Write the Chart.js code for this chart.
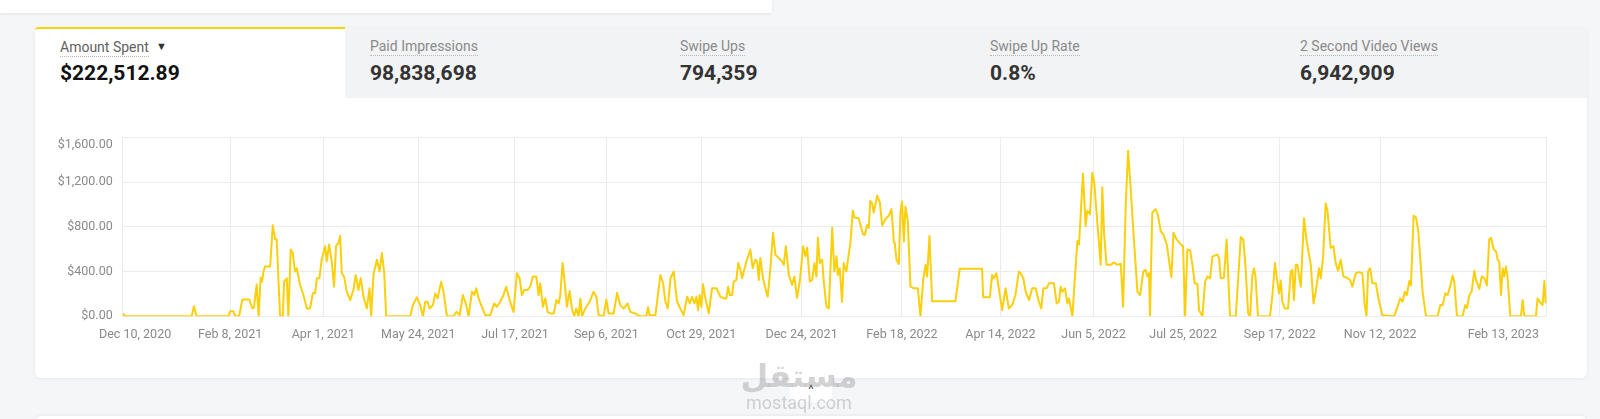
<!DOCTYPE html>
<html>
<head>
<meta charset="utf-8" />
<title>Amount Spent</title>
<style>
  body { margin: 0; width: 1600px; height: 419px; overflow: hidden; position: relative;
         background: #f5f6f8; font-family: Roboto, "Liberation Sans", sans-serif; }
  .topbar { position: absolute; left: 0; top: 0; width: 772px; height: 13px; background: #fff;
            box-shadow: 0 1px 3px rgba(0,0,0,0.08); }
  .card { position: absolute; left: 35px; top: 27px; width: 1552px; height: 351px; background: #fff;
          border-radius: 6px; box-shadow: 0 1px 4px rgba(0,0,0,0.06); }
  .tabs { position: absolute; left: 0; top: 0; width: 1552px; height: 71px; background: #f2f3f5;
          border-top-right-radius: 6px; }
  .tab { position: absolute; top: 0; width: 310px; height: 71px; }
  .tab.active { background: #fff; border-top: 2px solid #f7d30c; height: 69px; border-top-left-radius: 4px; }
  .lbl { position: absolute; left: 25px; top: 11px; font-size: 14px; color: #8a8a8a;
         border-bottom: 1px dotted #b8b8b8; padding-bottom: 1px; line-height: 16px; }
  .active .lbl { color: #5f5f5f; top: 10px; }
  .caret { position: absolute; left: 121px; top: 11px; font-size: 11px; color: #333; }
  .val { position: absolute; left: 25px; top: 34px; font-size: 21px; font-weight: 700; color: #333;
         line-height: 24px; }
  .active .val { color: #111; top: 32px; }
  canvas { position: absolute; left: 35px; top: 121px; }
  .up { position: absolute; left: 790px; top: 378px; width: 42px; height: 24px; background: #fff;
        border-radius: 0 0 4px 4px; text-align: center; font-size: 13px; color: #444; line-height: 24px; }
  .wm { position: absolute; left: 740px; top: 358px; width: 118px; text-align: center;
        color: rgba(150,150,150,0.42); pointer-events: none; }
  .wm .ar { font-family: "DejaVu Sans", sans-serif; font-weight: 700; font-size: 32px; line-height: 36px; }
  .wm .en { font-family: Roboto, sans-serif; font-size: 18px; line-height: 18px; }
  .next { position: absolute; left: 35px; top: 416px; width: 1552px; height: 20px; background: #fff;
          border-radius: 6px; box-shadow: 0 -1px 3px rgba(0,0,0,0.06); }
</style>
</head>
<body>
<div class="topbar"></div>
<div class="card">
  <div class="tabs"></div>
  <div class="tab active" style="left:0"><span class="lbl">Amount Spent</span><span class="caret">&#9660;</span><span class="val">$222,512.89</span></div>
  <div class="tab" style="left:310px"><span class="lbl">Paid Impressions</span><span class="val">98,838,698</span></div>
  <div class="tab" style="left:620px"><span class="lbl">Swipe Ups</span><span class="val">794,359</span></div>
  <div class="tab" style="left:930px"><span class="lbl">Swipe Up Rate</span><span class="val">0.8%</span></div>
  <div class="tab" style="left:1240px"><span class="lbl">2 Second Video Views</span><span class="val">6,942,909</span></div>
</div>
<canvas id="myChart" width="1552" height="240"></canvas>
<div class="up">^</div>
<div class="wm"><div class="ar">مستقل</div><div class="en">mostaql.com</div></div>
<div class="next"></div>

<script src="https://cdn.jsdelivr.net/npm/chart.js@4.4.1/dist/chart.umd.min.js"></script>
<script>
// days counted from Dec 10, 2020
var xTickDays = [0, 60, 112, 165, 219, 270, 323, 379, 435, 490, 542, 592, 646, 702, 795];
var xTickLabels = ['Dec 10, 2020', 'Feb 8, 2021', 'Apr 1, 2021', 'May 24, 2021', 'Jul 17, 2021',
    'Sep 6, 2021', 'Oct 29, 2021', 'Dec 24, 2021', 'Feb 18, 2022', 'Apr 14, 2022', 'Jun 5, 2022',
    'Jul 25, 2022', 'Sep 17, 2022', 'Nov 12, 2022', 'Feb 13, 2023'];
var yTicks = [0, 400, 800, 1200, 1600];

// amount spent (day, $)
var days = [
    0, 1.5, 38.5, 39.8, 41.3, 59, 59.9, 61.8, 62.9, 65, 66.8, 70.7, 72.4, 73.3, 74.8, 75.9, 77, 77.8, 78.6, 79.5,
    82.3, 83.8, 85.1, 86, 86.9, 87.9, 89.4, 90.1, 91.6, 92.5, 93.8, 94.9, 96.2, 97.2, 99, 100.9, 102.8, 104.6, 106.1, 107.4,
    108.4, 109.8, 111.1, 113, 113.9, 115.2, 116.7, 118, 119.1, 120.5, 121.4, 122.3, 123.6, 125.1, 127, 128.8, 130.1, 131.6, 132.9, 134.4,
    136.3, 137.8, 138.7, 140, 141.9, 143.4, 144.7, 146, 147.1, 160.5, 162, 164.2, 166.1, 167.6, 168.9, 170.2, 171.3, 173.2, 174.5, 175.8,
    177.8, 179.1, 181, 184.7, 186.4, 188.1, 189.9, 191.8, 193.1, 195, 196.3, 197.4, 198.7, 200.5, 202.4, 205.2, 207.4, 208.9, 210.8, 212.6,
    214.1, 216, 218.2, 220.1, 221.6, 222.9, 224.2, 226, 227.5, 229, 230.9, 232.2, 233.1, 234.6, 235.9, 237.2, 238.7, 240.6, 242.1, 243.4,
    244.3, 245.6, 246.9, 248, 249.5, 250.8, 252.1, 253.2, 254.5, 255.5, 256.4, 258.3, 260.7, 262.9, 264.4, 265.7, 268.5, 270, 271.3, 274.1,
    276, 277.8, 279.7, 281.9, 283.4, 286.2, 289, 292.3, 293.3, 294.2, 297.4, 300.2, 301.7, 303, 304.3, 305.8, 307.6, 309.5, 311.3, 313.2,
    315.1, 316.6, 317.9, 319.2, 320.3, 321.2, 322.1, 323.1, 324, 325.3, 327.2, 329, 331.5, 333.7, 335.6, 337, 338, 338.9, 340.2, 341.1,
    342.6, 343.6, 344.9, 345.8, 348.2, 350.4, 351.7, 353.2, 354.2, 355.1, 356, 357.5, 358.8, 360.1, 361.6, 363.1, 364.4, 366.3, 368.1, 369.1,
    370.2, 371.9, 373.7, 375, 376.5, 378, 379.9, 381.2, 382.1, 383.6, 384.9, 386.2, 387.3, 388.1, 389.2, 390.5, 391.4, 392.9, 394.2, 396.1,
    397.3, 398.5, 399.2, 400.3, 401.6, 402.5, 404, 405.3, 406.3, 407.6, 408.5, 410.9, 413.3, 414.3, 415.6, 416.5, 417.4, 418.4, 419.3, 421.2,
    422.7, 424, 425.8, 427.7, 429.2, 430.5, 431, 432, 433.3, 434.2, 435.1, 436.1, 437, 438.3, 439.8, 441.7, 443.9, 445.4, 446.9, 448.2,
    449.1, 450.4, 451.9, 464.9, 467.3, 479.8, 480.4, 484.1, 485.4, 486.3, 487.8, 489.1, 491, 492.9, 494.7, 496.6, 498.4, 500.3, 501.3, 502.8,
    504.1, 506, 507.8, 509.7, 511.5, 512.8, 514, 515.8, 517.1, 519.9, 521.4, 522.7, 523.6, 524.6, 526.1, 527.4, 528.3, 530.2, 531.7, 533,
    533.9, 536.1, 537.6, 538.5, 540, 541.3, 542.3, 544.5, 546, 546.9, 547.9, 549.3, 551.6, 553.4, 555.3, 557.2, 558.5, 560, 561.3, 562.7,
    564.6, 566.5, 568, 569.8, 571.1, 572.1, 573, 573.5, 574.8, 576.7, 578, 579.5, 581, 582.9, 584.2, 585.5, 586.6, 588.4, 590.7, 592,
    593.1, 594.4, 595.9, 597.2, 598.5, 600, 600.9, 602.8, 604.3, 605.6, 607.1, 608.4, 611.2, 612.1, 613, 614.8, 616.3, 617.1, 618.2, 621.4,
    622.7, 624.2, 625.6, 626.9, 628.3, 629.4, 630.7, 631.6, 632.5, 633.8, 640.5, 641.8, 643.3, 644.6, 645.6, 646.5, 647.4, 648.7, 650.6, 652.1,
    653, 653.9, 654.9, 655.8, 656.7, 657.7, 659.5, 661, 662.3, 663.3, 664.8, 666.1, 667.9, 668.9, 670.2, 671.6, 672.6, 674.4, 675.9, 677.2,
    678.5, 680, 681.5, 683.4, 685.2, 686.5, 688.4, 690.3, 692.1, 693.4, 694.4, 695.3, 696.4, 697.7, 699.6, 701.4, 703.3, 709.8, 711.7, 713.2,
    714.5, 715.8, 716.9, 718.3, 719.2, 720.7, 722, 723.3, 724.4, 725.7, 727.6, 734.1, 735.6, 736.9, 738.4, 739.7, 741.2, 742.5, 743.4, 744.9,
    748, 749.5, 750.5, 751.8, 753.1, 754.6, 755.5, 757.4, 758.7, 760.2, 761.6, 762.9, 763.9, 765.4, 766.7, 767.6, 768.5, 769.5, 770.4, 771.3,
    772.3, 773.2, 774.7, 780.6, 781.6, 782.5, 789, 789.9, 791.8, 792.7, 793.7, 794.4, 795
];
var spend = [
    25, 0, 0, 90, 0, 0, 45, 45, 0, 0, 150, 150, 70, 80, 286, 0, 345, 310, 400, 446,
    446, 813, 687, 687, 340, 0, 0, 310, 340, 0, 597, 566, 400, 430, 280, 190, 70, 70, 205, 205,
    340, 340, 506, 627, 490, 641, 490, 265, 627, 657, 717, 385, 355, 220, 145, 235, 370, 235, 340, 175,
    70, 250, 0, 370, 506, 400, 566, 385, 0, 0, 100, 170, 100, 0, 130, 130, 70, 100, 205, 160,
    310, 220, 0, 0, 40, 10, 190, 100, 0, 220, 190, 250, 160, 85, 10, 10, 115, 85, 130, 190,
    265, 145, 40, 385, 340, 190, 235, 235, 265, 355, 355, 190, 295, 85, 160, 40, 25, 25, 145, 115,
    190, 476, 280, 85, 226, 70, 0, 70, 0, 160, 0, 70, 130, 220, 175, 10, 0, 150, 25, 25,
    210, 100, 70, 115, 40, 25, 0, 0, 80, 10, 10, 370, 295, 130, 70, 340, 400, 130, 70, 10,
    175, 115, 175, 115, 175, 55, 190, 85, 286, 160, 25, 250, 250, 175, 160, 160, 265, 190, 190, 310,
    325, 476, 415, 340, 490, 597, 430, 506, 490, 325, 520, 340, 250, 175, 430, 747, 550, 520, 490, 460,
    627, 370, 280, 355, 165, 310, 627, 536, 612, 310, 325, 476, 355, 702, 476, 506, 310, 85, 70, 792,
    400, 536, 370, 430, 130, 476, 400, 551, 657, 943, 883, 877, 733, 727, 817, 790, 1033, 1010, 928, 1079,
    1018, 813, 868, 898, 958, 663, 657, 506, 467, 928, 1027, 669, 980, 850, 265, 250, 250, 0, 325, 460,
    355, 717, 135, 135, 425, 425, 170, 170, 370, 340, 385, 250, 55, 250, 70, 100, 190, 400, 385, 340,
    220, 145, 250, 250, 130, 70, 250, 250, 295, 295, 115, 130, 265, 220, 250, 115, 160, 0, 370, 672,
    642, 1275, 808, 943, 913, 1280, 1214, 762, 460, 1154, 732, 460, 460, 482, 460, 470, 85, 1003, 1480, 1154,
    672, 220, 190, 400, 415, 355, 385, 0, 928, 958, 900, 762, 730, 642, 490, 350, 747, 687, 642, 627,
    0, 597, 590, 460, 295, 290, 55, 0, 310, 355, 340, 536, 551, 520, 340, 345, 687, 400, 0, 0,
    325, 708, 687, 430, 25, 0, 370, 430, 340, 0, 0, 175, 476, 310, 205, 320, 130, 70, 70, 400,
    415, 145, 460, 460, 370, 265, 877, 672, 551, 460, 115, 220, 430, 340, 536, 1009, 945, 612, 627, 476,
    407, 506, 355, 345, 325, 265, 385, 395, 385, 100, 0, 400, 430, 295, 295, 130, 10, 0, 85, 160,
    130, 220, 190, 316, 275, 898, 883, 762, 520, 220, 0, 0, 100, 100, 205, 190, 274, 365, 310, 0,
    0, 100, 75, 190, 220, 407, 325, 244, 355, 340, 275, 687, 702, 597, 580, 506, 490, 190, 430, 355,
    446, 340, 0, 0, 145, 0, 0, 160, 115, 100, 316, 130, 120
];

var points = days.map(function (d, i) { return { x: d, y: spend[i] }; });

var tickFont = { family: 'Roboto, "Liberation Sans", sans-serif', size: 12.5 };
var gridColor = '#ebebeb';

// the first and last date labels sit pulled inward, as in the original
function padLabel(text, index) {
    if (index === 0) return '        ' + text;
    if (index === xTickLabels.length - 1) return text + '                            ';
    return text;
}

function money(v) {
    return '$' + v.toLocaleString('en-US', { minimumFractionDigits: 2, maximumFractionDigits: 2 });
}

var context = document.getElementById("myChart").getContext("2d");
var chart = new Chart(context, {
    type: 'line',
    data: {
        datasets: [{
            label: 'Amount Spent',
            data: points,
            borderColor: '#fccf0c',
            borderWidth: 2,
            pointRadius: 0,
            tension: 0,
            borderJoinStyle: 'round',
            fill: false
        }]
    },
    options: {
        responsive: false,
        animation: false,
        layout: { padding: { top: 16.3, right: 40.3, bottom: 0, left: 0 } },
        plugins: { legend: { display: false }, tooltip: { enabled: false } },
        scales: {
            x: {
                type: 'linear',
                min: 0,
                max: 795,
                afterBuildTicks: function (scale) {
                    scale.ticks = xTickDays.map(function (v) { return { value: v }; });
                },
                afterFit: function (scale) {
                    scale.height = 44.7;
                    scale.paddingLeft = 0;
                    scale.paddingRight = 0;
                },
                grid: { color: gridColor, drawTicks: false },
                border: { color: gridColor },
                ticks: {
                    autoSkip: false,
                    maxRotation: 0,
                    padding: 11,
                    color: '#8a8a8a',
                    font: tickFont,
                    callback: function (value, index) { return padLabel(xTickLabels[index], index); }
                }
            },
            y: {
                min: 0,
                max: 1600,
                afterBuildTicks: function (scale) {
                    scale.ticks = yTicks.map(function (v) { return { value: v }; });
                },
                afterFit: function (scale) {
                    scale.width = 87.7;
                    scale.paddingTop = 0;
                },
                grid: { color: gridColor, drawTicks: false },
                border: { color: gridColor },
                ticks: {
                    padding: 10,
                    color: '#8a8a8a',
                    font: tickFont,
                    callback: function (value) {
                        // top label hangs just under the top line
                        if (value === 1600) return ['', money(value)];
                        return money(value);
                    }
                }
            }
        }
    }
});
</script>
</body>
</html>
